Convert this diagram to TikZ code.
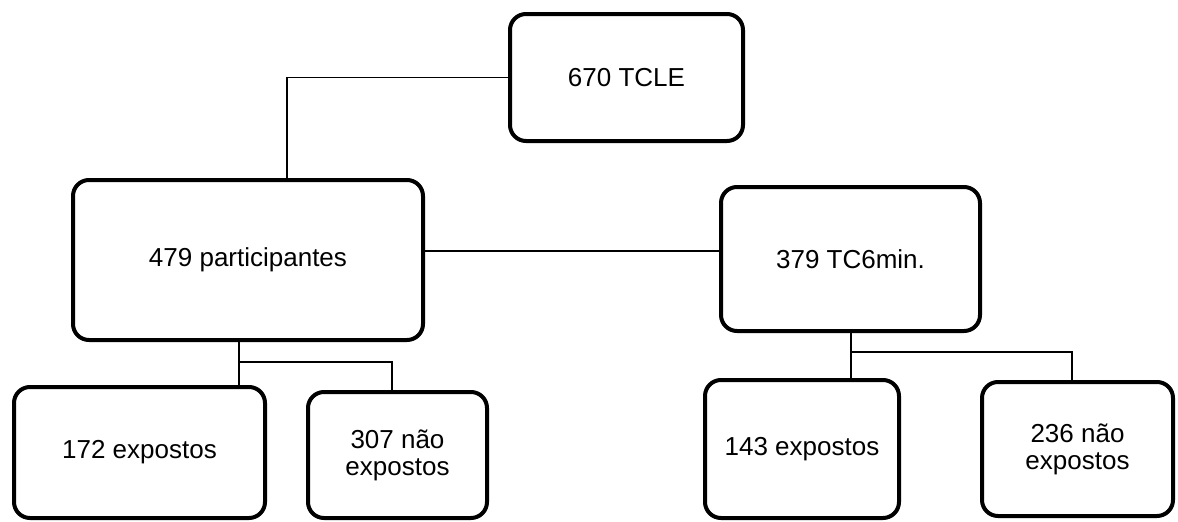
\documentclass[tikz,border=0pt]{standalone}
\usepackage{fontspec}
\setmainfont{Liberation Sans}
\usepackage{tikz}
\usetikzlibrary{positioning}
\tikzset{caixa/.style = {draw, line width = 4pt, rounded corners = 16pt,
                         align = center, inner sep = 0,
                         font = \fontsize{26}{27}\selectfont}}
\tikzset{liga/.style = {line width = 1.5pt}}

\begin{document}
\begin{tikzpicture}[x = 1pt, y = -1pt]
      \useasboundingbox (0, 0) rectangle (1178, 522);

      \node [caixa, minimum width = 233, minimum height = 127] (tcle) at (626.5, 77.5) {670 TCLE};
      \node [caixa, minimum width = 350, minimum height = 160] (part) at (248, 260) {479 participantes};
      \node [caixa, minimum width = 259, minimum height = 144] (tcsix) at (850.5, 259) {379 TC6min.};
      \node [caixa, minimum width = 251, minimum height = 131] (expa) at (139.5, 452.5) {172 expostos};
      \node [caixa, minimum width = 179, minimum height = 126] (naoa) at (397.5, 455) {307 não\\expostos};
      \node [caixa, minimum width = 194, minimum height = 138] (expb) at (802, 449) {143 expostos};
      \node [caixa, minimum width = 191, minimum height = 134] (naob) at (1077.5, 449) {236 não\\expostos};

      \coordinate (top) at (287, 77.5);
      \coordinate (mid) at (580, 251);
      \coordinate (fa) at (239, 362);
      \coordinate (fb) at (392, 362);
      \coordinate (fc) at (851, 352);
      \coordinate (fd) at (1072, 352);

      \draw [liga] (tcle.west) -- (top) -- (part.north -| top);
      \draw [liga] (part.east |- mid) -- (tcsix.west |- mid);
      \draw [liga] (part.south -| fa) -- (expa.north -| fa);
      \draw [liga] (fa) -- (fb) -- (naoa.north -| fb);
      \draw [liga] (tcsix.south -| fc) -- (expb.north -| fc);
      \draw [liga] (fc) -- (fd) -- (naob.north -| fd);
    \end{tikzpicture}
\end{document}
